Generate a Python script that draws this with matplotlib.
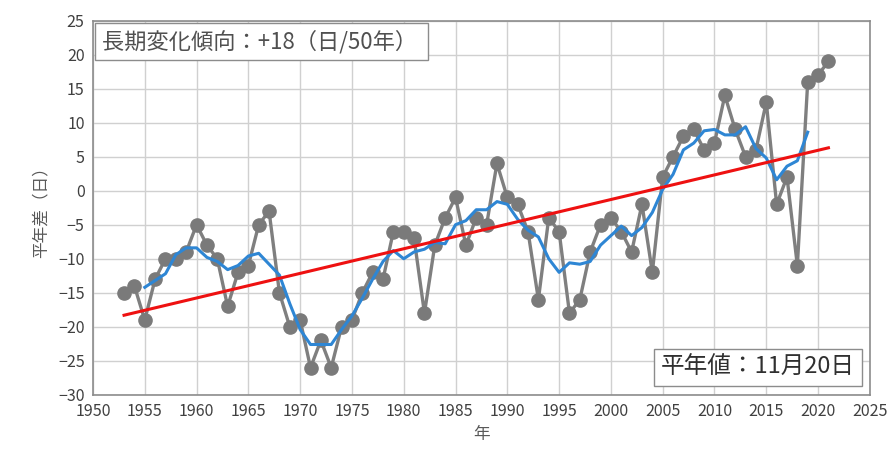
import matplotlib
matplotlib.use("Agg")
import matplotlib.pyplot as plt
import numpy as np
import pandas as pd

plt.rcParams["font.family"] = ["Noto Sans CJK JP", "DejaVu Sans"]

years = list(range(1953, 2022))
anomaly = [
    -15, -14, -19, -13, -10, -10, -9, -5, -8, -10,      # 1953-1962
    -17, -12, -11, -5, -3, -15, -20, -19, -26, -22,     # 1963-1972
    -26, -20, -19, -15, -12, -13, -6, -6, -7, -18,      # 1973-1982
    -8, -4, -1, -8, -4, -5, 4, -1, -2, -6,              # 1983-1992
    -16, -4, -6, -18, -16, -9, -5, -4, -6, -9,          # 1993-2002
    -2, -12, 2, 5, 8, 9, 6, 7, 14, 9,                   # 2003-2012
    5, 6, 13, -2, 2, -11, 16, 17, 19,                   # 2013-2021
]
trend_years = [1953, 2021]
trend_values = [-18.3, 6.3]

trend_label = "長期変化傾向：+18（日/50年）"
normal_label = "平年値：11月20日"

# 5-year running mean of the anomaly series
running = pd.Series(anomaly, index=years).rolling(5, center=True).mean()

fig = plt.figure(figsize=(8.94, 4.57), dpi=100)
ax = fig.add_axes([0.104, 0.136, 0.869, 0.819])

ax.plot(years, anomaly, color="#7f7f7f", lw=2.4, marker="o", ms=9.5,
        mfc="#7a7a7a", mec="#7a7a7a", zorder=3)
ax.plot(running.index, running.values, color="#2e86d4", lw=2.2, zorder=4)
ax.plot(trend_years, trend_values, color="#ee1111", lw=2.2, zorder=5)

ax.set_xlim(1950, 2025)
ax.set_ylim(-30, 25)
ax.set_xticks(range(1950, 2026, 5))
ax.set_yticks(range(-30, 26, 5))
ax.grid(True, color="#d0d0d0", lw=1.0)
ax.set_axisbelow(True)
ax.tick_params(length=0, labelsize=11.5, colors="#404040", pad=6)
for s in ax.spines.values():
    s.set_color("#8c8c8c")
    s.set_linewidth(1.2)

ax.set_xlabel("年", fontsize=12, color="#595959", labelpad=4)
ax.set_ylabel("平年差（日）", fontsize=12, color="#595959", labelpad=6)

box = dict(boxstyle="square,pad=0.3", fc="white", ec="#8c8c8c", lw=1.0)
ax.text(0.011, 0.975, trend_label + " ", transform=ax.transAxes, ha="left",
        va="top", fontsize=16, color="#505050", bbox=box, zorder=6)
ax.text(0.981, 0.042, normal_label, transform=ax.transAxes, ha="right",
        va="bottom", fontsize=17, color="#303030", bbox=box, zorder=6)

fig.savefig("out.png", dpi=100)
